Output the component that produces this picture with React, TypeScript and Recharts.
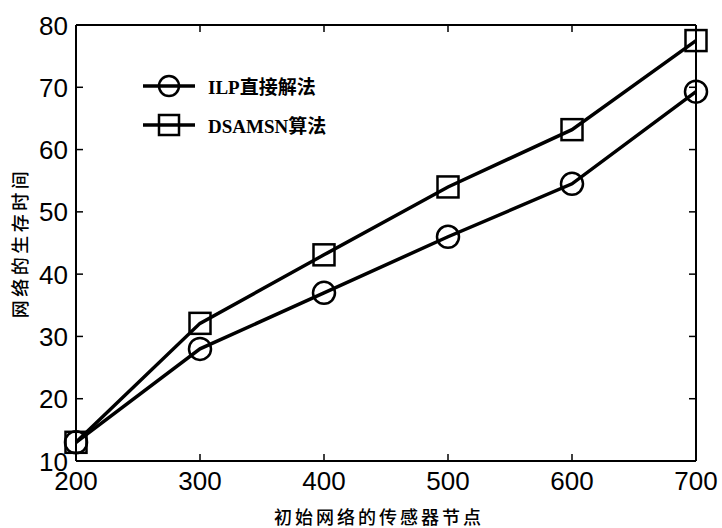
import { LineChart, Line, XAxis, YAxis, ReferenceLine } from 'recharts';

const nodes = [200, 300, 400, 500, 600, 700];
const ilp = [13, 28, 37, 46, 54.5, 69.3];
const dsamsn = [13, 32.1, 43.1, 54, 63.2, 77.5];
const xTicks = [200, 300, 400, 500, 600, 700];
const yTicks = [10, 20, 30, 40, 50, 60, 70, 80];
const seriesNames = ['ILP直接解法', 'DSAMSN算法'];

const data = nodes.map((n, i) => ({ x: n, ilp: ilp[i], dsamsn: dsamsn[i] }));

// plot box size (used for the inward ticks on the opposite sides)
const PLOT_W = 620;
const PLOT_H = 436;
const TICK_FONT = '"Liberation Sans", Arial, sans-serif';
const CJK_FONT = '"Liberation Serif", "Noto Sans CJK SC", serif';

function XTick(props: any) {
  const { x, y, payload } = props;
  return (
    <g>
      <line x1={x} y1={y} x2={x} y2={y - 7} stroke="#000" strokeWidth={1.5} />
      <line x1={x} y1={y - PLOT_H} x2={x} y2={y - PLOT_H + 7} stroke="#000" strokeWidth={1.5} />
      <text x={x} y={y + 29} textAnchor="middle" fontFamily={TICK_FONT} fontSize={26} fill="#000">
        {payload.value}
      </text>
    </g>
  );
}

function YTick(props: any) {
  const { x, y, payload } = props;
  return (
    <g>
      <line x1={x} y1={y} x2={x + 7} y2={y} stroke="#000" strokeWidth={1.5} />
      <line x1={x + PLOT_W} y1={y} x2={x + PLOT_W - 7} y2={y} stroke="#000" strokeWidth={1.5} />
      <text x={x - 8} y={y + 9.5} textAnchor="end" fontFamily={TICK_FONT} fontSize={26} fill="#000">
        {payload.value}
      </text>
    </g>
  );
}

function SquareDot(props: any) {
  const { cx, cy, index } = props;
  if (cx == null || cy == null) return null;
  return <rect key={`sq-${index}`} x={cx - 10.5} y={cy - 10.5} width={21} height={21} fill="none" stroke="#000" strokeWidth={2.5} />;
}

function Marker({ kind }: { kind: string }) {
  return (
    <svg width={52} height={26} style={{ display: 'block' }}>
      <line x1={0} y1={13} x2={52} y2={13} stroke="#000" strokeWidth={3.5} />
      {kind === 'circle'
        ? <circle cx={26} cy={13} r={10} fill="none" stroke="#000" strokeWidth={2.5} />
        : <rect x={16} y={3} width={20} height={20} fill="none" stroke="#000" strokeWidth={2.5} />}
    </svg>
  );
}

function LegendBox() {
  const kinds = ['circle', 'square'];
  return (
    <div style={{ position: 'absolute', left: 143, top: 72, display: 'flex', flexDirection: 'column', gap: 12 }}>
      {seriesNames.map((name, i) => (
        <div key={name} style={{ display: 'flex', alignItems: 'center' }}>
          <Marker kind={kinds[i]} />
          <span style={{ marginLeft: 13, fontFamily: CJK_FONT, fontSize: 19, fontWeight: 'bold', color: '#000' }}>{name}</span>
        </div>
      ))}
    </div>
  );
}

export default function App() {
  return (
    <div style={{ position: 'absolute', left: 0, top: 0, width: 722, height: 528, background: '#fff' }}>
      <LineChart width={722} height={528} data={data} margin={{ top: 25, right: 26, bottom: 0, left: 0 }}>
        <XAxis
          dataKey="x"
          type="number"
          domain={[200, 700]}
          ticks={xTicks}
          height={67}
          tickSize={0}
          tickMargin={0}
          tickLine={false}
          axisLine={{ stroke: '#000', strokeWidth: 2 }}
          tick={<XTick />}
          interval={0}
          label={{
            content: () => (
              <text x={379} y={524} textAnchor="middle" fontFamily='"Noto Sans CJK SC", sans-serif' fontSize={18} fontWeight={500} letterSpacing={3} fill="#000">
                初始网络的传感器节点
              </text>
            ),
          }}
        />
        <YAxis
          type="number"
          domain={[10, 80]}
          ticks={yTicks}
          width={76}
          tickSize={0}
          tickMargin={0}
          tickLine={false}
          axisLine={{ stroke: '#000', strokeWidth: 2 }}
          tick={<YTick />}
          interval={0}
          label={{
            content: () => (
              <text x={0} y={0} transform="translate(27, 243) rotate(-90)" textAnchor="middle" fontFamily='"Noto Sans CJK SC", sans-serif' fontSize={18} fontWeight={500} letterSpacing={3.5} fill="#000">
                网络的生存时间
              </text>
            ),
          }}
        />
        <ReferenceLine y={80} stroke="#000" strokeWidth={2} />
        <ReferenceLine x={700} stroke="#000" strokeWidth={2} />
        <Line
          dataKey="ilp"
          name={seriesNames[0]}
          stroke="#000"
          strokeWidth={3.5}
          dot={{ r: 11, fill: 'none', stroke: '#000', strokeWidth: 2.5 }}
          activeDot={false}
          isAnimationActive={false}
        />
        <Line
          dataKey="dsamsn"
          name={seriesNames[1]}
          stroke="#000"
          strokeWidth={3.5}
          dot={<SquareDot />}
          activeDot={false}
          isAnimationActive={false}
        />
      </LineChart>
      <LegendBox />
    </div>
  );
}
